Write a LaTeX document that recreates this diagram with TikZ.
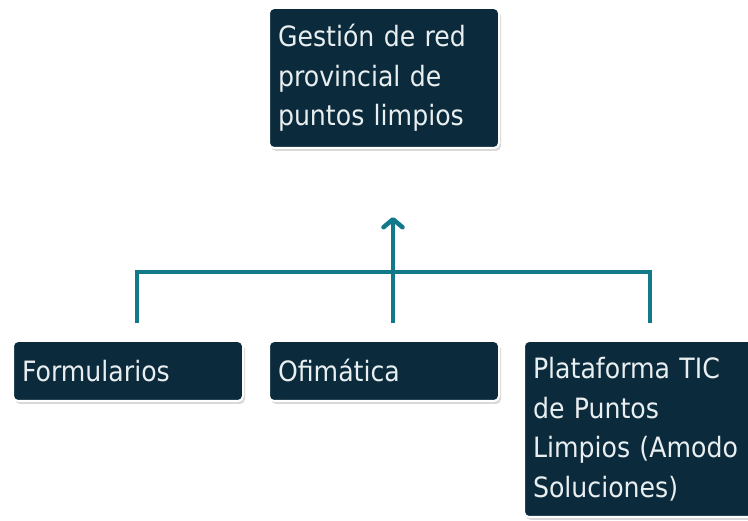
\documentclass[tikz,border=0pt]{standalone}
\usepackage{fontspec}
\setmainfont{DejaVu Sans}[FakeStretch=0.9, WordSpace=0.88]
\usetikzlibrary{arrows.meta,shadows,calc}
\definecolor{boxc}{HTML}{0B2B3C}
\definecolor{linec}{HTML}{12798A}
\definecolor{txtc}{HTML}{E9EEF0}
\begin{document}
\begin{tikzpicture}[x=1pt,y=-1pt,
  box/.style={draw=white, line width=2pt, fill=boxc, rounded corners=5pt,
    text=txtc, align=left, text width=212pt, inner xsep=9pt, inner ysep=0pt,
    anchor=north west, font=\fontsize{28}{39.5}\selectfont,
    drop shadow={shadow xshift=2pt, shadow yshift=-3pt, opacity=0.3}},
  conn/.style={draw=linec, line width=4.5pt, line join=miter},
  tip/.style={-{Straight Barb[length=8pt,width=19pt,line cap=round,line join=round]}}]
\useasboundingbox (0,0) rectangle (748,521);
\node[box, minimum height=140pt] (top) at (268,7) {Gestión de red\\provincial de\\puntos limpios};
\node[box, minimum height=60pt] (form) at (12,340) {Formularios};
\node[box, minimum height=60pt] (ofi) at (268,340) {Ofimática};
\node[box, minimum height=176pt] (plat) at (523,340) {Plataforma TIC\\de Puntos\\Limpios (Amodo\\Soluciones)};
\coordinate (cl) at (137,323);
\coordinate (cm) at (393,323);
\coordinate (cr) at (650,323);
\coordinate (ct) at (393,217);
\draw[conn] (cl) -- (cl |- 0,272) -- (cr |- 0,272) -- (cr);
\draw[conn,tip] (cm) -- (ct);
\end{tikzpicture}
\end{document}
